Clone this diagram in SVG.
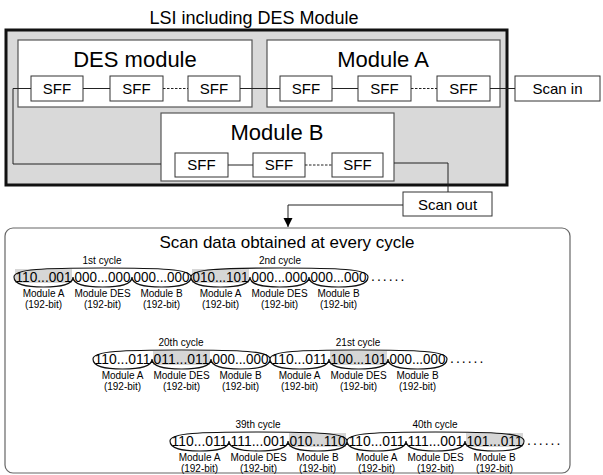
<svg xmlns="http://www.w3.org/2000/svg" width="603" height="475" viewBox="0 0 603 475">
<style>
text{font-family:"Liberation Sans",Arial,sans-serif;fill:#000}
.t{font-size:18px}
.mn{font-size:22px;text-anchor:middle}
.sff rect,.io rect{fill:#fff;stroke:#333;stroke-width:1}
.sff text,.io text{font-size:15px;text-anchor:middle}
.mod{fill:#fff;stroke:#555;stroke-width:1.2}
.ln{fill:none;stroke:#222;stroke-width:1}
.dash{stroke-dasharray:2.5 1.5}
.bits{font-size:15px;text-anchor:middle}
.lbl{font-size:10px;text-anchor:middle}
.cyc{font-size:10px;text-anchor:middle}
.br{fill:none;stroke:#111;stroke-width:1.2}
.hl{fill:#d6d6d6}
.dots{font-size:14px;letter-spacing:2px}
</style>
<defs>
<marker id="ah" viewBox="0 0 10 10" refX="10" refY="5" markerWidth="9" markerHeight="11" markerUnits="userSpaceOnUse" orient="auto">
<path d="M0,0 L10,5 L0,10 z" fill="#000"/>
</marker>
</defs>

<text class="t" x="254" y="24" text-anchor="middle">LSI including DES Module</text>

<g id="lsi">
<rect x="6" y="30" width="501" height="155" fill="#d9d9d9" stroke="#111" stroke-width="3"/>
</g>

<g id="des-module">
<rect class="mod" x="18" y="40" width="234" height="67"/>
<text class="mn" x="135" y="67">DES module</text>
<g class="sff" id="des-sff1"><rect x="31" y="76" width="52" height="25"/><text x="57" y="94">SFF</text></g>
<g class="sff" id="des-sff2"><rect x="110" y="76" width="53" height="25"/><text x="136.5" y="94">SFF</text></g>
<g class="sff" id="des-sff3"><rect x="188" y="76" width="52" height="25"/><text x="214" y="94">SFF</text></g>
</g>

<g id="module-a">
<rect class="mod" x="267" y="40" width="233" height="67"/>
<text class="mn" x="383" y="67">Module A</text>
<g class="sff" id="a-sff1"><rect x="280" y="76" width="52" height="25"/><text x="306" y="94">SFF</text></g>
<g class="sff" id="a-sff2"><rect x="358" y="76" width="53" height="25"/><text x="384.5" y="94">SFF</text></g>
<g class="sff" id="a-sff3"><rect x="437" y="76" width="53" height="25"/><text x="463.5" y="94">SFF</text></g>
</g>

<g id="module-b">
<rect class="mod" x="161" y="113" width="233" height="68"/>
<text class="mn" x="277" y="140">Module B</text>
<g class="sff" id="b-sff1"><rect x="175" y="153" width="53" height="24"/><text x="201.5" y="170">SFF</text></g>
<g class="sff" id="b-sff2"><rect x="253" y="153" width="52" height="24"/><text x="279" y="170">SFF</text></g>
<g class="sff" id="b-sff3"><rect x="332" y="153" width="51" height="24"/><text x="357.5" y="170">SFF</text></g>
</g>

<g id="scan-in" class="io"><rect x="515" y="76" width="85" height="25"/><text x="557.5" y="94">Scan in</text></g>
<g id="scan-out" class="io"><rect x="403" y="192" width="89" height="24"/><text x="447.5" y="210">Scan out</text></g>

<g id="connectors">
<path class="ln" d="M83,88.5 H110"/>
<path class="ln dash" d="M163,88.5 H188"/>
<path class="ln" d="M240,88.5 H280"/>
<path class="ln" d="M332,88.5 H358"/>
<path class="ln dash" d="M411,88.5 H437"/>
<path class="ln" d="M490,88.5 H515"/>
<path class="ln" d="M31,88.5 H13 V164 H161"/>
<path class="ln" d="M228,165 H253"/>
<path class="ln dash" d="M305,165 H332"/>
<path class="ln" d="M394,163 H448 V192"/>
<path class="ln" d="M403,205 H288 V227" marker-end="url(#ah)"/>
</g>

<g id="scan-data">
<rect x="5" y="228" width="565" height="245" rx="8" fill="#fff" stroke="#666" stroke-width="1.2"/>
<text x="287" y="248" font-size="17" text-anchor="middle">Scan data obtained at every cycle</text>

<!-- Row 1 -->
<g id="row1">
<rect class="hl" x="15" y="269" width="57" height="14"/>
<rect class="hl" x="192" y="269" width="57" height="14"/>
<path class="br" d="M14,277 C14,269 44,268 102.5,268 S191,269 191,277 M191,277 C191,269 221,268 279.5,268 S368,269 368,277"/>
<path class="br" d="M14,277 C14,285 26,287 43.5,287 S73,285 73,277 M73,277 C73,285 85,287 102.5,287 S132,285 132,277 M132,277 C132,285 144,287 161.5,287 S191,285 191,277 M191,277 C191,285 203,287 220.5,287 S250,285 250,277 M250,277 C250,285 262,287 279.5,287 S309,285 309,277 M309,277 C309,285 321,287 338.5,287 S368,285 368,277"/>
<text class="cyc" x="102" y="264">1st cycle</text>
<text class="cyc" x="280" y="264">2nd cycle</text>
<g class="bits">
<text x="43.5" y="282" textLength="56" lengthAdjust="spacingAndGlyphs">110...001</text>
<text x="102.5" y="282" textLength="56" lengthAdjust="spacingAndGlyphs">000...000</text>
<text x="161.5" y="282" textLength="56" lengthAdjust="spacingAndGlyphs">000...000</text>
<text x="220.5" y="282" textLength="56" lengthAdjust="spacingAndGlyphs">010...101</text>
<text x="279.5" y="282" textLength="56" lengthAdjust="spacingAndGlyphs">000...000</text>
<text x="338.5" y="282" textLength="56" lengthAdjust="spacingAndGlyphs">000...000</text>
</g>
<text class="dots" x="371" y="281">......</text>
<text class="lbl" x="43.5" y="297">Module A</text><text class="lbl" x="43.5" y="308">(192-bit)</text>
<text class="lbl" x="102.5" y="297">Module DES</text><text class="lbl" x="102.5" y="308">(192-bit)</text>
<text class="lbl" x="161.5" y="297">Module B</text><text class="lbl" x="161.5" y="308">(192-bit)</text>
<text class="lbl" x="220.5" y="297">Module A</text><text class="lbl" x="220.5" y="308">(192-bit)</text>
<text class="lbl" x="279.5" y="297">Module DES</text><text class="lbl" x="279.5" y="308">(192-bit)</text>
<text class="lbl" x="338.5" y="297">Module B</text><text class="lbl" x="338.5" y="308">(192-bit)</text>
</g>

<!-- Row 2 -->
<g id="row2">
<rect class="hl" x="153" y="351" width="57" height="14"/>
<rect class="hl" x="330" y="351" width="57" height="14"/>
<path class="br" d="M93,359 C93,351 123,350 181.5,350 S270,351 270,359 M270,359 C270,351 300,350 358.5,350 S447,351 447,359"/>
<path class="br" d="M93,359 C93,367 105,369 122.5,369 S152,367 152,359 M152,359 C152,367 164,369 181.5,369 S211,367 211,359 M211,359 C211,367 223,369 240.5,369 S270,367 270,359 M270,359 C270,367 282,369 299.5,369 S329,367 329,359 M329,359 C329,367 341,369 358.5,369 S388,367 388,359 M388,359 C388,367 400,369 417.5,369 S447,367 447,359"/>
<text class="cyc" x="181" y="346">20th cycle</text>
<text class="cyc" x="358" y="346">21st cycle</text>
<g class="bits">
<text x="122.5" y="364" textLength="56" lengthAdjust="spacingAndGlyphs">110...011</text>
<text x="181.5" y="364" textLength="56" lengthAdjust="spacingAndGlyphs">011...011</text>
<text x="240.5" y="364" textLength="56" lengthAdjust="spacingAndGlyphs">000...000</text>
<text x="299.5" y="364" textLength="56" lengthAdjust="spacingAndGlyphs">110...011</text>
<text x="358.5" y="364" textLength="56" lengthAdjust="spacingAndGlyphs">100...101</text>
<text x="417.5" y="364" textLength="56" lengthAdjust="spacingAndGlyphs">000...000</text>
</g>
<text class="dots" x="450" y="363">......</text>
<text class="lbl" x="122.5" y="379">Module A</text><text class="lbl" x="122.5" y="390">(192-bit)</text>
<text class="lbl" x="181.5" y="379">Module DES</text><text class="lbl" x="181.5" y="390">(192-bit)</text>
<text class="lbl" x="240.5" y="379">Module B</text><text class="lbl" x="240.5" y="390">(192-bit)</text>
<text class="lbl" x="299.5" y="379">Module A</text><text class="lbl" x="299.5" y="390">(192-bit)</text>
<text class="lbl" x="358.5" y="379">Module DES</text><text class="lbl" x="358.5" y="390">(192-bit)</text>
<text class="lbl" x="417.5" y="379">Module B</text><text class="lbl" x="417.5" y="390">(192-bit)</text>
</g>

<!-- Row 3 -->
<g id="row3">
<rect class="hl" x="289" y="433" width="57" height="14"/>
<rect class="hl" x="466" y="433" width="57" height="14"/>
<path class="br" d="M170,441 C170,433 200,432 258.5,432 S347,433 347,441 M347,441 C347,433 377,432 435.5,432 S524,433 524,441"/>
<path class="br" d="M170,441 C170,449 182,451 199.5,451 S229,449 229,441 M229,441 C229,449 241,451 258.5,451 S288,449 288,441 M288,441 C288,449 300,451 317.5,451 S347,449 347,441 M347,441 C347,449 359,451 376.5,451 S406,449 406,441 M406,441 C406,449 418,451 435.5,451 S465,449 465,441 M465,441 C465,449 477,451 494.5,451 S524,449 524,441"/>
<text class="cyc" x="258" y="428">39th cycle</text>
<text class="cyc" x="435" y="428">40th cycle</text>
<g class="bits">
<text x="199.5" y="446" textLength="56" lengthAdjust="spacingAndGlyphs">110...011</text>
<text x="258.5" y="446" textLength="56" lengthAdjust="spacingAndGlyphs">111...001</text>
<text x="317.5" y="446" textLength="56" lengthAdjust="spacingAndGlyphs">010...110</text>
<text x="376.5" y="446" textLength="56" lengthAdjust="spacingAndGlyphs">110...011</text>
<text x="435.5" y="446" textLength="56" lengthAdjust="spacingAndGlyphs">111...001</text>
<text x="494.5" y="446" textLength="56" lengthAdjust="spacingAndGlyphs">101...011</text>
</g>
<text class="dots" x="527" y="445">......</text>
<text class="lbl" x="199.5" y="461">Module A</text><text class="lbl" x="199.5" y="472">(192-bit)</text>
<text class="lbl" x="258.5" y="461">Module DES</text><text class="lbl" x="258.5" y="472">(192-bit)</text>
<text class="lbl" x="317.5" y="461">Module B</text><text class="lbl" x="317.5" y="472">(192-bit)</text>
<text class="lbl" x="376.5" y="461">Module A</text><text class="lbl" x="376.5" y="472">(192-bit)</text>
<text class="lbl" x="435.5" y="461">Module DES</text><text class="lbl" x="435.5" y="472">(192-bit)</text>
<text class="lbl" x="494.5" y="461">Module B</text><text class="lbl" x="494.5" y="472">(192-bit)</text>
</g>
</g>
</svg>
